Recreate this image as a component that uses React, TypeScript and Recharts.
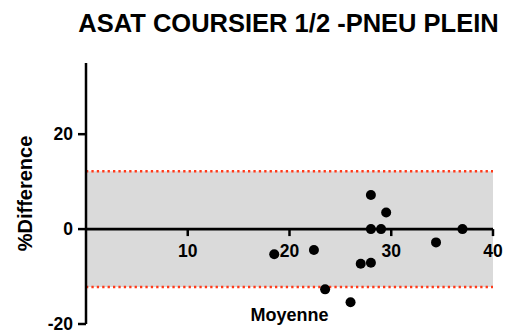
import React from 'react';
import {
  ScatterChart, Scatter, XAxis, YAxis, ReferenceArea, ReferenceLine, ReferenceDot,
} from 'recharts';

const title = 'ASAT COURSIER 1/2 -PNEU PLEIN';
const xLabel = 'Moyenne';
const yLabel = '%Difference';

const moyenne = [18.5, 22.4, 23.5, 26.0, 27.0, 28.0, 28.0, 28.0, 29.0, 29.5, 34.4, 37.0];
const difference = [-5.3, -4.4, -12.7, -15.4, -7.3, -7.1, 7.2, 0, 0, 3.5, -2.8, 0];

const upperLimit = 12.2;
const lowerLimit = -12.2;

const xTicks = [10, 20, 30, 40];
const yTicks = [-20, 0, 20];
const xDomain = [0, 40];
const yDomain = [-20, 35];

const data = moyenne.map((m, i) => ({ x: m, y: difference[i] }));

const FONT = '"Liberation Sans", Arial, Helvetica, sans-serif';

const Dot = (p: any) => <circle cx={p.cx} cy={p.cy} r={5} fill="#000" />;

export default function App() {
  return (
    <div style={{ position: 'absolute', left: 0, top: 0, width: 505, height: 333, background: '#fff', overflow: 'hidden' }}>
      <div
        style={{
          position: 'absolute', left: 74, width: 429, top: 11, textAlign: 'center',
          fontFamily: FONT, fontWeight: 'bold', fontSize: 25.5, lineHeight: '25.5px', whiteSpace: 'nowrap', color: '#000',
        }}
      >
        {title}
      </div>
      <ScatterChart width={505} height={333} margin={{ top: 63, right: 12, bottom: 0, left: 0 }}>
        <XAxis
          type="number"
          dataKey="x"
          domain={xDomain}
          ticks={xTicks}
          height={9}
          axisLine={false}
          tickLine={false}
          tick={false}
          label={{ value: xLabel, position: 'top', offset: 3, style: { fontFamily: FONT, fontWeight: 'bold', fontSize: 18, fill: '#000' } }}
        />
        <YAxis
          type="number"
          dataKey="y"
          domain={yDomain}
          ticks={yTicks}
          interval={0}
          width={86}
          axisLine={{ stroke: '#000', strokeWidth: 2.5 }}
          tickLine={{ stroke: '#000', strokeWidth: 2.5 }}
          tickSize={8}
          tickMargin={5}
          tick={{ fontFamily: FONT, fontWeight: 'bold', fontSize: 17.5, fill: '#000' }}
          label={{ value: yLabel, angle: -90, position: 'insideLeft', offset: 25, style: { textAnchor: 'middle', fontFamily: FONT, fontWeight: 'bold', fontSize: 20, fill: '#000' } }}
        />
        <ReferenceArea x1={xDomain[0]} x2={xDomain[1]} y1={lowerLimit} y2={upperLimit} fill="#dadada" fillOpacity={1} stroke="none" />
        <ReferenceLine y={upperLimit} stroke="#ff3a1a" strokeWidth={2.5} strokeDasharray="2.3 3.1" />
        <ReferenceLine y={lowerLimit} stroke="#ff3a1a" strokeWidth={2.5} strokeDasharray="2.3 3.1" />
        <ReferenceLine y={0} stroke="#000" strokeWidth={2.7} />
        {xTicks.map((t) => (
          <ReferenceDot
            key={t}
            x={t}
            y={0}
            r={0}
            shape={(p: any) => (
              <g>
                <line x1={p.cx} y1={p.cy} x2={p.cx} y2={p.cy + 7} stroke="#000" strokeWidth={2.5} />
                <text x={p.cx} y={p.cy + 28} textAnchor="middle" fontFamily={FONT} fontWeight="bold" fontSize={17.5} fill="#000">
                  {t}
                </text>
              </g>
            )}
          />
        ))}
        <Scatter data={data} fill="#000" shape={Dot} isAnimationActive={false} />
      </ScatterChart>
    </div>
  );
}
